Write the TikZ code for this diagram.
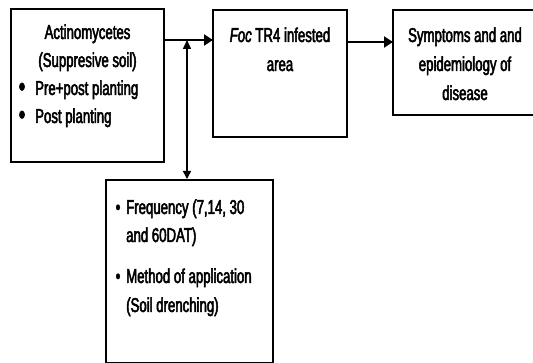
\documentclass[tikz,border=0pt]{standalone}
\usepackage{fontspec}
\setmainfont{Liberation Sans}[FakeStretch=0.66,FakeBold=2.5]
\usetikzlibrary{arrows.meta}
\begin{document}
\begin{tikzpicture}[x=1pt,y=-1pt,
  box/.style={draw=black,line width=2pt,rectangle,inner sep=0pt,outer sep=0pt},
  txt/.style={anchor=base,inner sep=0pt,font=\fontsize{20}{28}\selectfont},
  ltxt/.style={anchor=base west,inner sep=0pt,font=\fontsize{20}{28}\selectfont},
  bul/.style={anchor=base,inner sep=0pt,font=\fontsize{20}{28}\selectfont},
  mainarrow/.style={line width=2pt,-{Triangle[length=9pt,width=11pt]}},
  thinarrow/.style={line width=1.5pt,{Triangle[length=9pt,width=8pt]}-{Triangle[length=8pt,width=8pt]}}
]
\useasboundingbox (0,0) rectangle (533,363);
\clip (0,0) rectangle (533,363);
\fill[white] (0,0) rectangle (533,363);
% boxes
\node[box,minimum width=153pt,minimum height=153pt] (b1) at (87.5,85.5) {};
\node[box,minimum width=134pt,minimum height=127pt] (b2) at (280,73.5) {};
\node[box,minimum width=144pt,minimum height=105pt] (b3) at (465,62.5) {};
\node[box,minimum width=167pt,minimum height=183pt] (b4) at (189.5,271.5) {};
% box 1 text
\node[txt] (t11) at (87.5,39) {Actinomycetes};
\node[txt] (t12) at (87.5,67) {(Suppresive soil)};
\node[bul,scale=1.4] (u11) at (22,96) {\textbullet};
\node[ltxt] (t13) at (35,95) {Pre+post planting};
\node[bul,scale=1.4] (u12) at (22,124) {\textbullet};
\node[ltxt] (t14) at (35,123) {Post planting};
% box 2 text
\node[txt] (t21) at (280,42) {\textit{Foc} TR4 infested};
\node[txt] (t22) at (280,71) {area};
% box 3 text
\node[txt] (t31) at (465,42) {Symptoms and and};
\node[txt] (t32) at (465,71) {epidemiology of};
\node[txt] (t33) at (465,100) {disease};
% box 4 text
\node[bul] (u41) at (118,214) {\textbullet};
\node[ltxt] (t41) at (126,214) {Frequency (7,14, 30};
\node[ltxt] (t42) at (126,242) {and 60DAT)};
\node[bul] (u42) at (118,283) {\textbullet};
\node[ltxt] (t43) at (126,283) {Method of application};
\node[ltxt] (t44) at (126,312) {(Soil drenching)};
% connectors
\coordinate (j) at (187,40);
\coordinate (k) at (370,42);
\draw[mainarrow] (j -| b1.east) -- (j -| b2.west);
\draw[mainarrow] (k -| b2.east) -- (k -| b3.west);
\draw[thinarrow,shorten <=1pt,shorten >=1pt] ([yshift=1pt]j) -- (j |- b4.north);
\end{tikzpicture}
\end{document}
